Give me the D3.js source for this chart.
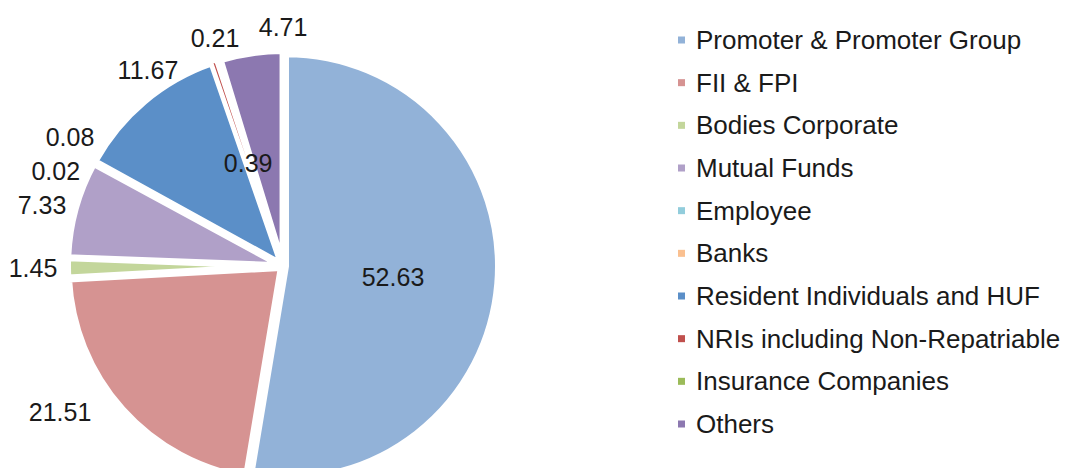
<!DOCTYPE html>
<html>
<head>
<meta charset="utf-8">
<script src="https://cdn.jsdelivr.net/npm/d3@7/dist/d3.min.js"></script>
<style>
  html, body { margin: 0; padding: 0; background: #fff; }
  svg { display: block; font-family: "Liberation Sans", Arial, sans-serif; }
</style>
</head>
<body>
<svg id="chart" width="1065" height="468"></svg>
<script>
// ---- data ----
const categories = [
  "Promoter & Promoter Group",
  "FII & FPI",
  "Bodies Corporate",
  "Mutual Funds",
  "Employee",
  "Banks",
  "Resident Individuals and HUF",
  "NRIs including Non-Repatriable",
  "Insurance Companies",
  "Others"
];
const values = [52.63, 21.51, 1.45, 7.33, 0.02, 0.08, 11.67, 0.21, 0.39, 4.71];
const valueLabels = ["52.63", "21.51", "1.45", "7.33", "0.02", "0.08", "11.67", "0.21", "0.39", "4.71"];
const colors = ["#92b2d8", "#d69392", "#c3d69b", "#b0a0c8", "#92cddc", "#fac090", "#5b8fc8", "#c0504d", "#9bbb59", "#8c78b0"];

// styling: white border width per slice (thin slice kept visible as a hairline)
const borderWidth = [6, 6, 6, 6, 6, 6, 6, 1.5, 6, 6];
// label placement (polar: radius from pie centre, angle nudge in degrees from slice mid-angle)
const labelRadius = [110.6, 266.8, 250, 248.5, 246, 248.8, 237.7, 237.5, 108.4, 238.6];
const labelNudge  = [1.2, 8.5, 0, -1.2, -6, 2.4, 5.5, 2.1, -1.1, 8.5];

// ---- layout ----
const svg = d3.select("#chart");
const cx = 283, cy = 266, r = 212, explode = 3;
const lcx = 283, lcy = 265.6; // label origin

const pie = d3.pie().sort(null).value(d => d)(values);
const arc = d3.arc().innerRadius(0).outerRadius(r);

const g = svg.append("g").attr("transform", `translate(${cx},${cy})`);

g.selectAll("path.slice")
  .data(pie)
  .join("path")
  .attr("class", "slice")
  .attr("d", arc)
  .attr("fill", (d, i) => colors[i])
  .attr("stroke", "#fff")
  .attr("stroke-width", (d, i) => borderWidth[i])
  .attr("stroke-linejoin", "miter")
  .attr("transform", d => {
    const a = (d.startAngle + d.endAngle) / 2;
    return `translate(${explode * Math.sin(a)},${-explode * Math.cos(a)})`;
  })
  .filter((d, i) => borderWidth[i] < 3)
  .raise();

const gl = svg.append("g").attr("transform", `translate(${lcx},${lcy})`);
gl.selectAll("text.lbl")
  .data(pie)
  .join("text")
  .attr("class", "lbl")
  .attr("x", (d, i) => {
    const a = (d.startAngle + d.endAngle) / 2 + labelNudge[i] * Math.PI / 180;
    return labelRadius[i] * Math.sin(a);
  })
  .attr("y", (d, i) => {
    const a = (d.startAngle + d.endAngle) / 2 + labelNudge[i] * Math.PI / 180;
    return -labelRadius[i] * Math.cos(a);
  })
  .attr("text-anchor", "middle")
  .attr("dominant-baseline", "central")
  .attr("font-size", 25)
  .attr("fill", "#1a1a1a")
  .text((d, i) => valueLabels[i]);

// ---- legend ----
const legendY = d3.scalePoint().domain(categories).range([40, 424]);
const legend = svg.append("g");
const items = legend.selectAll("g.item")
  .data(categories)
  .join("g")
  .attr("class", "item")
  .attr("transform", d => `translate(0,${legendY(d)})`);
items.append("rect")
  .attr("x", 678).attr("y", -3.5)
  .attr("width", 7).attr("height", 7)
  .attr("fill", (d, i) => colors[i]);
items.append("text")
  .attr("x", 696).attr("y", 0)
  .attr("dominant-baseline", "central")
  .attr("font-size", 26)
  .attr("fill", "#1a1a1a")
  .text(d => d);
</script>
</body>
</html>
